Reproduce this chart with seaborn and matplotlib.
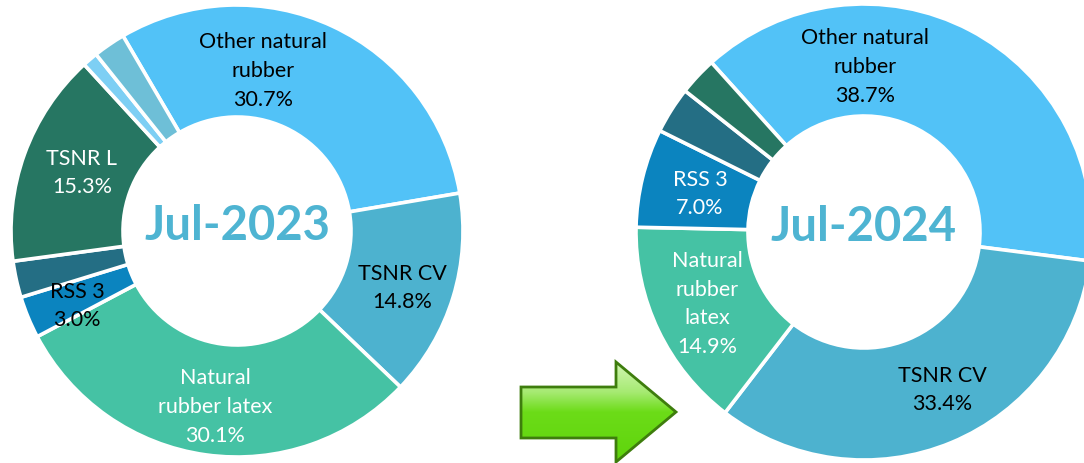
import numpy as np
import matplotlib
matplotlib.use("Agg")
import matplotlib.pyplot as plt
from matplotlib.patches import Polygon
from matplotlib.colors import LinearSegmentedColormap
import seaborn as sns

# Natural rubber import structure by grade (share of total, %)
grades = ["Other natural rubber", "TSNR CV", "Natural rubber latex", "RSS 3",
          "RSS other", "TSNR L", "TSNR 10", "TSNR 20"]
share_2023 = [30.7, 14.8, 30.1, 3.0, 2.6, 15.3, 1.1, 2.3]
share_2024 = [38.7, 33.4, 14.9, 7.0, 3.3, 2.7, 0.0, 0.0]
labels_2023 = ["Other natural\nrubber", "TSNR CV", "Natural\nrubber latex", "RSS 3",
               None, "TSNR L", None, None]
labels_2024 = ["Other natural\nrubber", "TSNR CV", "Natural\nrubber\nlatex", "RSS 3",
               None, None, None, None]
period_titles = ["Jul-2023", "Jul-2024"]

palette = ["#52C2F7", "#4DB2CF", "#45C2A4", "#0B84BF",
           "#246E84", "#267662", "#7DCFF4", "#6EBFD7"]

sns.set_theme(style="white")
plt.rcParams["font.family"] = ["Lato", "DejaVu Sans"]

W, H = 1084, 463
fig = plt.figure(figsize=(W / 100, H / 100), dpi=100)
ax = fig.add_axes([0, 0, 1, 1])


def donut(values, labels, label_pos, label_colors, cx, cy, R, ring, start_cw, title):
    vals = np.array(values, dtype=float)
    keep = vals > 0
    vals_k = vals[keep]
    cols_k = [c for c, k in zip(palette, keep) if k]
    ax.pie(vals_k, colors=cols_k, center=(cx, H - cy), radius=R,
           startangle=90 - start_cw, counterclock=False,
           wedgeprops=dict(width=ring, edgecolor="white", linewidth=2.6))
    total = vals.sum()
    for lab, v, pos, col in zip(labels, vals, label_pos, label_colors):
        if lab is None:
            continue
        ax.text(pos[0], H - pos[1], f"{lab}\n{v / total * 100:.1f}%",
                ha="center", va="center", fontsize=15.5, color=col,
                linespacing=1.55)
    ax.text(cx, H - cy + 5, title, ha="center", va="center", fontsize=34,
            fontweight="bold", color="#4EB4D2")


donut(share_2023, labels_2023,
      [(263, 71), (402, 288), (215, 407), (77, 306), None, (82, 173), None, None],
      ["black", "black", "white", "black", None, "white", None, None],
      cx=237, cy=231, R=226, ring=112, start_cw=-30.3, title=period_titles[0])

donut(share_2024, labels_2024,
      [(865, 67), (942, 390), (707, 304), (700, 194), None, None, None, None],
      ["black", "black", "white", "white", None, None, None, None],
      cx=864, cy=232, R=228, ring=112, start_cw=318.0, title=period_titles[1])

# Green transition arrow with a vertical gradient fill (light at the top)
arrow_pts = [(521, 387), (616, 387), (616, 362), (676, 412), (616, 462),
             (616, 438), (521, 438)]
arrow_xy = [(x, H - y) for x, y in arrow_pts]
grad = LinearSegmentedColormap.from_list(
    "arrowfill", [(0.0, "#D2F6B4"), (0.3, "#A6EA72"), (0.5, "#6CDC18"), (1.0, "#5FD40C")])
yy = np.linspace(0, 1, 200).reshape(-1, 1)
img = ax.imshow(np.repeat(yy, 2, axis=1), cmap=grad, vmin=0, vmax=1,
                extent=(521, 676, H - 462, H - 362), aspect="auto", zorder=3,
                interpolation="bilinear")
clip = Polygon(arrow_xy, closed=True, facecolor="none", edgecolor="none",
               transform=ax.transData)
ax.add_patch(clip)
img.set_clip_path(clip)
ax.add_patch(Polygon(arrow_xy, closed=True, facecolor="none", edgecolor="#3E7D0D",
                     linewidth=2.0, joinstyle="miter", zorder=4))

ax.set_xlim(0, W)
ax.set_ylim(0, H)
ax.set_aspect("equal")
ax.axis("off")

fig.savefig("out.png", dpi=100, facecolor="white")
